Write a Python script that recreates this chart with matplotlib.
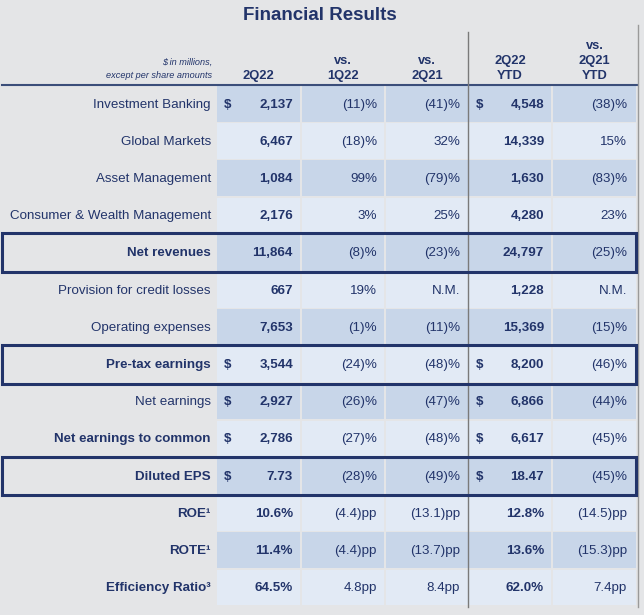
import matplotlib.pyplot as plt
from matplotlib.patches import Rectangle

plt.rcParams['font.family'] = ['Liberation Sans', 'DejaVu Sans']

# table content
row_labels = ["Investment Banking", "Global Markets", "Asset Management",
              "Consumer & Wealth Management", "Net revenues",
              "Provision for credit losses", "Operating expenses",
              "Pre-tax earnings", "Net earnings", "Net earnings to common",
              "Diluted EPS", "ROE¹", "ROTE¹", "Efficiency Ratio³"]
q2_22 = ["2,137", "6,467", "1,084", "2,176", "11,864", "667", "7,653",
         "3,544", "2,927", "2,786", "7.73", "10.6%", "11.4%", "64.5%"]
vs_1q22 = ["(11)%", "(18)%", "99%", "3%", "(8)%", "19%", "(1)%",
           "(24)%", "(26)%", "(27)%", "(28)%", "(4.4)pp", "(4.4)pp", "4.8pp"]
vs_2q21 = ["(41)%", "32%", "(79)%", "25%", "(23)%", "N.M.", "(11)%",
           "(48)%", "(47)%", "(48)%", "(49)%", "(13.1)pp", "(13.7)pp", "8.4pp"]
ytd_22 = ["4,548", "14,339", "1,630", "4,280", "24,797", "1,228", "15,369",
          "8,200", "6,866", "6,617", "18.47", "12.8%", "13.6%", "62.0%"]
vs_ytd21 = ["(38)%", "15%", "(83)%", "23%", "(25)%", "N.M.", "(15)%",
            "(46)%", "(44)%", "(45)%", "(45)%", "(14.5)pp", "(15.3)pp", "7.4pp"]
dollar_rows = [0, 7, 8, 9, 10]
bold_rows = [4, 7, 9, 10, 11, 12, 13]
boxed_rows = [4, 7, 10]

col_headers = ["2Q22", "vs.\n1Q22", "vs.\n2Q21", "2Q22\nYTD", "vs.\n2Q21\nYTD"]

navy = "#22346A"
bg = "#E4E5E7"
dark_band = "#C8D6E9"
light_band = "#E2EAF5"

fig = plt.figure(figsize=(6.44, 6.15), dpi=100)
fig.patch.set_facecolor(bg)
ax = fig.add_axes([0, 0, 1, 1])
ax.set_xlim(0, 644)
ax.set_ylim(615, 0)
ax.axis("off")

top = 86
rh = 37.2
cols = [(217, 300), (302, 384), (386, 468), (469, 551), (553, 636)]
fs = 9.6

ax.text(320, 16, "Financial Results", ha="center", va="center",
        fontsize=13.5, fontweight="bold", color=navy)

ax.text(212, 62, "$ in millions,", ha="right", va="center", fontsize=6.6,
        style="italic", color=navy)
ax.text(212, 75, "except per share amounts", ha="right", va="center",
        fontsize=6.6, style="italic", color=navy)
for (x0, x1), h in zip(cols, col_headers):
    ax.text((x0 + x1) / 2, 82, h, ha="center", va="bottom", fontsize=9.3,
            fontweight="bold", color=navy, linespacing=1.35)

for i in range(len(row_labels)):
    y0 = top + i * rh
    yc = y0 + rh / 2
    color = dark_band if i % 2 == 0 else light_band
    for x0, x1 in cols:
        ax.add_patch(Rectangle((x0, y0), x1 - x0, rh - 1.5, facecolor=color,
                               edgecolor="none", zorder=1))
    weight = "bold" if i in bold_rows else "normal"
    ax.text(211, yc, row_labels[i], ha="right", va="center", fontsize=fs,
            fontweight=weight, color=navy, zorder=3)
    if i in dollar_rows:
        ax.text(224, yc, "$", ha="left", va="center", fontsize=fs,
                fontweight="bold", color=navy, zorder=3)
        ax.text(476, yc, "$", ha="left", va="center", fontsize=fs,
                fontweight="bold", color=navy, zorder=3)
    ax.text(293, yc, q2_22[i], ha="right", va="center", fontsize=fs,
            fontweight="bold", color=navy, zorder=3)
    ax.text(377, yc, vs_1q22[i], ha="right", va="center", fontsize=fs,
            color=navy, zorder=3)
    ax.text(460, yc, vs_2q21[i], ha="right", va="center", fontsize=fs,
            color=navy, zorder=3)
    ax.text(544, yc, ytd_22[i], ha="right", va="center", fontsize=fs,
            fontweight="bold", color=navy, zorder=3)
    ax.text(627, yc, vs_ytd21[i], ha="right", va="center", fontsize=fs,
            color=navy, zorder=3)

bottom = top + len(row_labels) * rh
# header rule and vertical separators
ax.plot([2, 637], [top - 1, top - 1], color="#3B4E7A", lw=1.5, zorder=4)
ax.plot([468.5, 468.5], [32, bottom], color="#7A7A7A", lw=1, zorder=4)
ax.plot([638, 638], [25, bottom], color="#9A9A9A", lw=1, zorder=4)

for i in boxed_rows:
    y0 = top + i * rh - 1.5
    ax.add_patch(Rectangle((2.5, y0), 634, rh + 1.5, facecolor="none",
                           edgecolor=navy, lw=2.2, zorder=5))

fig.savefig("out.png", dpi=100, facecolor=bg)
